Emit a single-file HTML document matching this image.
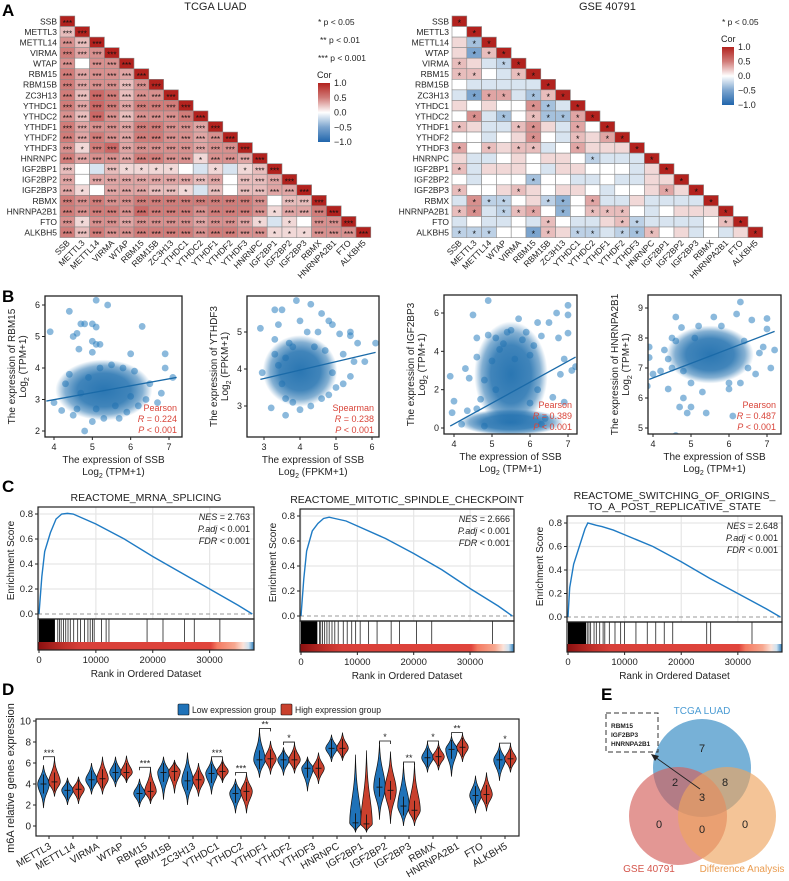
<!DOCTYPE html>
<html><head><meta charset="utf-8"><style>
body{margin:0;background:#fff}
svg{display:block;font-family:"Liberation Sans",Arial,sans-serif}
</style></head><body>
<svg id="fig" width="789" height="881" viewBox="0 0 789 881" xmlns="http://www.w3.org/2000/svg"></svg>
<script>
// ---------- DATA ----------
const tcgaGenes=["SSB","METTL3","METTL14","VIRMA","WTAP","RBM15","RBM15B","ZC3H13","YTHDC1","YTHDC2","YTHDF1","YTHDF2","YTHDF3","HNRNPC","IGF2BP1","IGF2BP2","IGF2BP3","RBMX","HNRNPA2B1","FTO","ALKBH5"];
const gseGenes=["SSB","METTL3","METTL14","WTAP","VIRMA","RBM15","RBM15B","ZC3H13","YTHDC1","YTHDC2","YTHDF1","YTHDF2","YTHDF3","HNRNPC","IGF2BP1","IGF2BP2","IGF2BP3","RBMX","HNRNPA2B1","FTO","ALKBH5"];
const tcgaCor=[[],[2],[4,2],[5,3,4],[4,0,4,4],[5,3,4,4,3],[5,3,4,4,2,4],[5,2,6,5,2,4,4],[5,3,6,5,3,5,5,5],[4,2,6,4,2,4,4,4,5],[5,3,4,4,3,5,5,4,4,3],[5,3,5,4,3,5,5,4,4,3,4],[4,1,5,6,3,4,4,4,4,3,4,4],[5,3,4,4,3,5,5,4,4,1,4,4,3],[2,0,-1,2,1,1,1,1,0,-1,1,-1,1,2],[3,0,3,3,3,3,3,3,3,2,3,0,2,2,3],[3,1,0,3,3,3,2,2,1,-1,2,0,2,2,3,3],[5,4,5,4,4,5,5,5,5,5,5,5,5,4,0,2,2],[5,4,5,5,4,6,5,5,5,4,5,5,5,4,1,3,3,5],[4,1,4,4,3,4,4,4,4,3,4,4,3,1,-1,1,0,4,4],[5,2,5,4,4,5,5,5,5,4,5,5,4,4,1,1,1,4,4,4]];
const gseCor=[[],[0],[1,-3],[1,-5,2],[2,1,-1,-2],[2,2,0,-1,2],[0,-1,-1,-1,-1,-1],[-1,-5,3,3,-1,-3,2],[1,0,1,0,0,4,-3,-1],[0,4,-1,-3,0,2,-3,-3,3],[2,1,-1,-1,2,4,1,-1,3,0],[0,0,-1,0,1,4,0,-1,2,1,3],[3,0,2,1,2,2,-1,0,3,1,1,1],[1,-1,-1,0,1,0,1,1,0,-2,-1,-1,-1],[2,-1,1,1,1,0,-1,1,1,0,0,0,-1,1],[0,-1,0,0,0,-3,0,0,-1,-1,0,-1,-1,1,1],[2,0,0,1,2,1,0,1,1,0,-1,0,0,1,3,1],[-1,4,-2,-2,0,1,-2,-4,0,3,-1,-1,1,-1,-1,-1,-1],[2,4,-1,-2,2,3,0,-4,0,2,2,2,0,-1,0,1,1,1],[-1,0,-1,-1,0,-1,2,0,-1,-1,1,2,-2,-1,-1,-1,-1,0,2],[-2,-2,-2,0,0,-5,2,1,-2,-2,-1,-2,-3,2,0,1,-1,0,-1,1]];

const s1x=[3.9,4.4,4.5,4.6,4.7,4.8,4.65,5.1,5.0,5.1,5.0,5.1,5.2,6.0,6.3,5.4,5.0,6.9,7.1,6.9,6.5,6.8,6.7,4.0,4.2,4.3,4.4,4.5,4.8,5.0,5.3,5.7,5.9,6.2,6.4,4.6,5.5,5.8,6.1,5.2,4.9,6.0,5.6,5.1,4.7];
const s1y=[5.15,5.8,5.0,5.1,5.4,5.4,4.6,6.15,5.4,5.3,4.85,4.75,4.75,4.45,5.32,6.0,4.5,4.45,3.7,4.0,3.5,3.2,2.9,2.9,2.65,3.5,3.8,2.5,2.0,2.3,2.4,2.4,2.6,2.8,3.0,2.7,4.1,4.0,3.9,4.0,3.7,3.1,2.8,2.7,3.2];
const s2x=[2.9,2.95,3.2,3.3,3.3,3.4,3.5,3.6,3.7,3.8,3.9,4.0,4.2,4.3,4.5,4.6,4.8,4.9,5.1,5.4,5.4,5.6,5.5,5.8,6.1,5.0,5.2,5.4,4.6,4.3,3.6,3.5,3.4,4.0,3.8,4.8,5.2,4.7,3.3,4.4,3.6,4.9];
const s2y=[5.1,3.9,2.95,4.8,5.6,5.2,5.6,2.75,4.7,4.6,5.85,5.3,5.0,5.75,5.0,5.5,5.3,5.2,4.95,4.9,5.0,4.7,4.2,4.2,4.7,3.5,3.6,3.8,3.2,3.0,3.2,3.6,4.1,2.9,3.1,3.3,4.4,4.5,4.4,4.6,4.3,3.9];
const s3x=[3.9,3.95,4.0,4.2,4.3,4.35,4.4,4.5,4.6,4.6,4.7,4.8,4.9,5.0,5.1,5.2,5.3,5.4,5.5,5.6,5.7,5.8,5.9,6.0,6.1,6.2,6.3,6.5,6.6,6.7,6.75,6.9,7.0,7.0,7.0,6.9,7.2,7.1,6.4,6.2,6.8,4.9,4.6,5.1,6.0,4.8,6.3];
const s3y=[2.7,0.8,1.4,0.2,3.1,0.9,2.6,5.9,4.7,3.7,1.5,2.5,4.85,3.5,4.7,4.1,4.4,5.0,5.1,3.6,5.7,4.6,5.0,3.8,4.3,5.5,4.8,5.5,1.6,6.0,4.7,3.6,6.4,5.9,4.95,1.35,3.2,3.0,0.5,2.0,2.8,6.65,1.0,2.0,1.3,0.1,0.2];
const s4x=[3.9,3.9,3.85,4.0,4.2,4.3,4.4,4.4,4.5,4.6,4.6,4.7,4.75,4.8,4.9,5.0,5.1,5.3,5.4,5.6,5.8,6.0,6.1,6.2,6.3,6.5,6.6,6.7,6.8,7.0,7.0,7.1,7.2,6.9,6.4,4.8,5.0,5.2,6.0,4.6,6.3,4.5];
const s4y=[7.35,7.7,6.4,6.8,6.9,7.6,7.3,6.3,8.0,4.75,8.7,5.7,8.35,6.0,5.5,5.7,8.0,6.2,5.5,8.7,8.4,6.5,5.4,8.8,9.2,7.0,8.6,6.8,7.5,8.3,8.65,7.0,7.6,7.7,7.9,6.9,6.5,8.4,6.3,7.9,6.5,7.0];
const corePlot=[0,1,2,2,3], coreCx=[5.3,4.0,5.5,5.5,5.5], coreCy=[3.3,3.95,0.3,2.8,7.45], coreSx=[0.55,0.45,0.6,0.42,0.5], coreSy=[0.42,0.42,0.3,1.2,0.42];
const fitX0=[3.8,2.9,3.9,3.9], fitY0=[2.95,3.72,0.1,6.62], fitX1=[7.2,6.1,7.2,7.2], fitY1=[3.7,4.45,3.7,8.22];
const statMethod=["Pearson","Spearman","Pearson","Pearson"], statR=["0.224","0.238","0.389","0.487"];

const esRank1=[0,500,1000,2000,3000,4000,5000,6000,8000,10000,15000,20000,25000,30000,35000,37500];
const esVal1=[0,0.3,0.5,0.65,0.76,0.8,0.805,0.8,0.76,0.72,0.6,0.46,0.33,0.2,0.07,0];
const esRank2=[0,500,1000,2000,3000,4000,5000,6000,8000,10000,15000,20000,25000,30000,35000,37500];
const esVal2=[0,0.3,0.52,0.68,0.74,0.78,0.79,0.78,0.76,0.72,0.62,0.5,0.37,0.22,0.08,0];
const esRank3=[0,300,1000,2000,3000,3500,5000,6000,8000,10000,15000,20000,25000,30000,35000,37500];
const esVal3=[0,0.25,0.45,0.6,0.75,0.8,0.78,0.77,0.74,0.7,0.6,0.47,0.33,0.2,0.07,0];
const hitDense=[2800,2900,3200];
const hits1=[3300,3600,3900,4300,4700,5100,5500,6100,6800,7300,8000,8600,9000,9400,9700,11000,11800,12300,19000,21800,25600,27300,31800];
const hits2=[3300,3500,3800,4200,4600,5000,5500,6000,6600,7500,8200,9000,9700,10500,12000,13500,16000,17500,20500,23200,34000];
const hits3=[3400,3700,4000,4600,5000,5600,6200,6500,7300,8300,9300,10000,12000,14000,15500,17000,18500,24500,25200,32500];
const gseaTitle=[["REACTOME_MRNA_SPLICING"],["REACTOME_MITOTIC_SPINDLE_CHECKPOINT"],["REACTOME_SWITCHING_OF_ORIGINS_","TO_A_POST_REPLICATIVE_STATE"]];
const nes=["2.763","2.666","2.648"];

const vGenes=["METTL3","METTL14","VIRMA","WTAP","RBM15","RBM15B","ZC3H13","YTHDC1","YTHDC2","YTHDF1","YTHDF2","YTHDF3","HNRNPC","IGF2BP1","IGF2BP2","IGF2BP3","RBMX","HNRNPA2B1","FTO","ALKBH5"];
const lowMed=[4.0,3.4,4.4,5.1,3.1,5.1,4.3,5.0,3.1,6.3,6.3,5.5,7.4,0.3,3.7,1.9,6.5,7.3,2.9,6.3];
const lowMin=[1.7,2.0,3.0,3.7,1.8,2.5,2.0,3.0,1.2,4.6,4.8,3.3,6.1,-0.6,0.6,0.0,5.1,4.7,1.2,4.3];
const lowMax=[5.8,4.6,6.0,6.6,4.5,6.6,7.0,6.5,4.5,9.2,7.5,6.6,8.7,6.8,8.0,6.0,8.0,8.6,4.8,7.8];
const highMed=[4.2,3.5,4.5,5.1,3.3,5.2,4.4,5.2,3.3,6.4,6.3,5.5,7.4,0.2,3.4,1.5,6.6,7.5,3.0,6.4];
const highMin=[2.8,2.1,3.0,4.1,2.1,3.1,2.8,4.1,1.2,4.9,5.0,4.0,6.2,-0.6,0.2,0.0,5.3,6.1,1.4,5.1];
const highMax=[6.5,4.7,6.6,6.7,5.5,6.3,6.0,6.4,5.0,8.1,7.9,7.0,8.9,7.2,7.1,6.0,7.9,8.8,5.1,7.8];
const sigLabel=["***","","","","***","","","***","***","**","*","","","","*","**","*","**","","*"];

const vennCounts=[7,2,8,3,0,0,0];

// ---------- HELPERS ----------
const svg=document.getElementById('fig');
const NS="http://www.w3.org/2000/svg";
function el(tag,attrs,parent){const e=document.createElementNS(NS,tag);for(const k in attrs)e.setAttribute(k,attrs[k]);(parent||svg).appendChild(e);return e;}
function txt(s,x,y,size,attrs,parent){const t=el('text',Object.assign({x:x,y:y,'font-size':size,fill:'#222'},attrs||{}),parent);t.textContent=s;return t;}
function lin(a0,p0,a1,p1){return v=>p0+(v-a0)*(p1-p0)/(a1-a0);}
function corColor(r){
  const w=[255,255,255],red=[178,34,30],blue=[33,102,172];
  const c=r>=0?red:blue,t=Math.pow(Math.min(1,Math.abs(r)),0.75);
  return 'rgb('+w.map((v,i)=>Math.round(v+(c[i]-v)*t)).join(',')+')';
}
function panelLabel(s,x,y){const t=txt(s,x,y,17,{'font-weight':'bold',fill:'#000'});}

// ---------- PANEL A ----------
function heatmap(id,x0,y0,cw,ch,genes,cor,title,tcga){
  const g=el('g',{});
  
  
  const tt=txt(title,x0+cw*10.5,10,11,{'text-anchor':'middle'},g);
  
  
  genes.forEach((name,i)=>{
    const lb=txt(name,x0-3,y0+i*ch+ch*0.8,8.5,{'text-anchor':'end'},g);
    
    
    const cx=x0+i*cw+cw/2;
    const cl=txt(name,cx+3,y0+genes.length*ch+6,8.5,{'text-anchor':'end',transform:'rotate(-45 '+(cx+3)+' '+(y0+genes.length*ch+6)+')'},g);
    
    
    for(let j=0;j<=i;j++){
      const r=j===i?1:cor[i][j]/10;
      const c=el('rect',{x:x0+j*cw,y:y0+i*ch,width:cw,height:ch,fill:corColor(r),stroke:'#8a8a8a','stroke-width':0.6},g);
      
      
      let st='';
      const a=Math.abs(r);
      if(tcga){st=a>=0.2?'***':(a>=0.1&&r>0?'*':'');}else{st=a>=0.2?'*':'';}
      if(st)txt(st,x0+j*cw+cw/2,y0+i*ch+ch*0.95,tcga?8:9,{'text-anchor':'middle',fill:'#111'},g);
    }
  });
  return g;
}
heatmap('tcga-heatmap',60,16,14.8,10.55,tcgaGenes,tcgaCor,'TCGA LUAD',true);
heatmap('gse-heatmap',452,16,14.8,10.55,gseGenes,gseCor,'GSE 40791',false);
panelLabel('A',2,16);
function colorLegend(id,x,y,h){
  const g=el('g',{});
  
  
  const gid=id+'-grad';
  const d=el('defs',{},g);const lg=el('linearGradient',{id:gid,x1:0,y1:0,x2:0,y2:1},d);
  [[0,1],[0.25,0.5],[0.5,0],[0.75,-0.5],[1,-1]].forEach(s=>el('stop',{offset:s[0],'stop-color':corColor(s[1])},lg));
  txt('Cor',x-1,y-5,9,{},g);
  el('rect',{x:x,y:y,width:12,height:h,fill:'url(#'+gid+')'},g);
  ['1.0','0.5','0.0','\u22120.5','\u22121.0'].forEach((s,i)=>txt(s,x+16,y+3+i*h/4,9,{},g));
}
colorLegend('tcga-color-legend',318,83,59);
colorLegend('gse-color-legend',722,47,58);
txt('* p < 0.05',318,25,8.5);
txt('** p < 0.01',320,43,8.5);
txt('*** p < 0.001',318,61,8.5);
txt('* p < 0.05',722,25,8.5);

// ---------- PANEL B ----------
panelLabel('B',2,302);
const scFrames=[[45,296,182,437],[247,296,379,437],[444,295,577,434],[648,295,781,434]];
const scXcal=[[4,54,7,169],[3,264,6,372],[4,454,7,568],[4,653,7,767]];
const scYcal=[[2,431,6,305],[3,406,5,332],[0,428,6,313],[5,428,9,308]];
const scXt=[[4,5,6,7],[3,4,5,6],[4,5,6,7],[4,5,6,7]];
const scYt=[[2,3,4,5,6],[3,4,5],[0,2,4,6],[5,6,7,8,9]];
const scYname=["RBM15","YTHDF3","IGF2BP3","HNRNPA2B1"];
const scUnit=["TPM+1","FPKM+1","TPM+1","TPM+1"];
const scX=[s1x,s2x,s3x,s4x], scY=[s1y,s2y,s3y,s4y];
const defs0=el('defs',{});
const rg=el('radialGradient',{id:'coreGrad'},defs0);
[[0,0.95],[0.55,0.85],[0.8,0.55],[1,0]].forEach(s=>el('stop',{offset:s[0],'stop-color':'#1f6fae','stop-opacity':s[1]},rg));
for(let k=0;k<4;k++){
  const g=el('g',{});
  
  
  const f=scFrames[k];
  const X=lin(...scXcal[k]),Y=lin(...scYcal[k]);
  const cp=el('clipPath',{id:'cl'+k},g);el('rect',{x:f[0],y:f[1],width:f[2]-f[0],height:f[3]-f[1]},cp);
  const inner=el('g',{'clip-path':'url(#cl'+k+')'},g);
  scX[k].forEach((v,i)=>{
    const p=el('circle',{cx:X(v),cy:Y(scY[k][i]),r:3.4,fill:'#2b7fc0',opacity:0.55},inner);
    
    
  });
  corePlot.forEach((pk,ci)=>{
    if(pk!==k)return;
    const sx=Math.abs(X(coreSx[ci])-X(0)),sy=Math.abs(Y(coreSy[ci])-Y(0));
    const e=el('ellipse',{cx:X(coreCx[ci]),cy:Y(coreCy[ci]),rx:sx*2.3,ry:sy*2.3,fill:'url(#coreGrad)'},inner);
    
    
  });
  const fl=el('line',{x1:X(fitX0[k]),y1:Y(fitY0[k]),x2:X(fitX1[k]),y2:Y(fitY1[k]),stroke:'#1a6aa8','stroke-width':1.3},inner);
  
  
  el('rect',{x:f[0],y:f[1],width:f[2]-f[0],height:f[3]-f[1],fill:'none',stroke:'#222','stroke-width':1.3},g);
  scXt[k].forEach(v=>{el('line',{x1:X(v),x2:X(v),y1:f[3],y2:f[3]+3,stroke:'#222'},g);txt(String(v),X(v),f[3]+13,9,{'text-anchor':'middle'},g);});
  scYt[k].forEach(v=>{el('line',{x1:f[0]-3,x2:f[0],y1:Y(v),y2:Y(v),stroke:'#222'},g);txt(String(v),f[0]-5,Y(v)+3,9,{'text-anchor':'end'},g);});
  const mx=(f[0]+f[2])/2;
  txt('The expression of SSB',mx,f[3]+26,10,{'text-anchor':'middle'},g);
  const u=txt('',mx,f[3]+38,10,{'text-anchor':'middle'},g);
  u.innerHTML='Log<tspan font-size="7" dy="3">2</tspan><tspan dy="-3"> ('+scUnit[k]+')</tspan>';
  const my=(f[1]+f[3])/2,lx=f[0]-30;
  txt('The expression of '+scYname[k],lx,my,10,{'text-anchor':'middle',transform:'rotate(-90 '+lx+' '+my+')'},g);
  const u2=txt('',lx+11,my,10,{'text-anchor':'middle',transform:'rotate(-90 '+(lx+11)+' '+my+')'},g);
  u2.innerHTML='Log<tspan font-size="7" dy="3">2</tspan><tspan dy="-3"> ('+scUnit[k]+')</tspan>';
  const c='#d9453a';
  txt(statMethod[k],f[2]-5,f[3]-26,9,{'text-anchor':'end',fill:c},g);
  const r=txt('',f[2]-5,f[3]-15,9,{'text-anchor':'end',fill:c},g);r.innerHTML='<tspan font-style="italic">R</tspan> = '+statR[k];
  const p=txt('',f[2]-5,f[3]-4,9,{'text-anchor':'end',fill:c},g);p.innerHTML='<tspan font-style="italic">P</tspan> &lt; 0.001';
}

// ---------- PANEL C ----------
panelLabel('C',2,492);
const gsFrames=[[38,507,254,650],[300,509,514,652],[567,516,782,652]];
const gsZero=[614,616,617], gsEight=[514,516,523];
const esR=[esRank1,esRank2,esRank3], esV=[esVal1,esVal2,esVal3], hitsAll=[hits1,hits2,hits3];
for(let k=0;k<3;k++){
  const g=el('g',{});
  
  
  const f=gsFrames[k];
  const X=lin(0,f[0]+1,37800,f[2]);
  const Y=lin(0,gsZero[k],0.8,gsEight[k]);
  const esBot=gsZero[k]+5;
  [0,10000,20000,30000].forEach(v=>el('line',{x1:X(v),x2:X(v),y1:f[1],y2:esBot,stroke:'#e6e6e6','stroke-width':1.2},g));
  [0.2,0.4,0.6,0.8].forEach(v=>el('line',{x1:f[0],x2:f[2],y1:Y(v),y2:Y(v),stroke:'#e6e6e6','stroke-width':1.2},g));
  el('line',{x1:f[0],x2:f[2],y1:Y(0),y2:Y(0),stroke:'#999','stroke-dasharray':'4,3'},g);
  const pts=esR[k].map((v,i)=>X(v)+','+Y(esV[k][i])).join(' ');
  const pl=el('polyline',{points:pts,fill:'none',stroke:'#1f7bc4','stroke-width':1.4},g);
  
  
  el('rect',{x:f[0],y:f[1],width:f[2]-f[0],height:esBot-f[1],fill:'none',stroke:'#222','stroke-width':1.2},g);
  const rugTop=esBot,barTop=f[3]-8;
  el('rect',{x:X(0),y:rugTop,width:X(hitDense[k])-X(0),height:barTop-rugTop,fill:'#000'},g);
  hitsAll[k].forEach(h=>{const l=el('line',{x1:X(h),x2:X(h),y1:rugTop,y2:barTop,stroke:'#222','stroke-width':0.8},g);});
  const gid='rb'+k;const d=el('defs',{},g);const lg=el('linearGradient',{id:gid},d);
  [[0,'#8b0f0f'],[0.12,'#c0302a'],[0.2,'#d8403a'],[0.8,'#e0453c'],[0.83,'#f47b63'],[0.91,'#f7a890'],[0.95,'#fbe3da'],[0.975,'#cfe3f1'],[1,'#2b7ab8']].forEach(s=>el('stop',{offset:s[0],'stop-color':s[1]},lg));
  el('rect',{x:f[0],y:barTop,width:f[2]-f[0],height:8,fill:'url(#'+gid+')'},g);
  el('rect',{x:f[0],y:rugTop,width:f[2]-f[0],height:f[3]-rugTop,fill:'none',stroke:'#222','stroke-width':1.2},g);
  [0,10000,20000,30000].forEach(v=>{el('line',{x1:X(v),x2:X(v),y1:f[3],y2:f[3]+3,stroke:'#222'},g);txt(String(v),X(v),f[3]+13,9.5,{'text-anchor':'middle'},g);});
  [0,0.2,0.4,0.6,0.8].forEach(v=>{el('line',{x1:f[0]-3,x2:f[0],y1:Y(v),y2:Y(v),stroke:'#222'},g);txt(v.toFixed(1),f[0]-5,Y(v)+3,9.5,{'text-anchor':'end'},g);});
  const mx=(f[0]+f[2])/2;
  txt('Rank in Ordered Dataset',mx,f[3]+27,10,{'text-anchor':'middle'},g);
  const my=(f[1]+gsZero[k])/2, lx=f[0]-24;
  txt('Enrichment Score',lx,my,10,{'text-anchor':'middle',transform:'rotate(-90 '+lx+' '+my+')'},g);
  const tl=gseaTitle[k];
  tl.forEach((s,i)=>txt(s,mx,f[1]-6-(tl.length-1-i)*11,10.5,{'text-anchor':'middle'},g));
  const n=txt('',f[2]-4,f[1]+13,9,{'text-anchor':'end'},g);n.innerHTML='<tspan font-style="italic">NES</tspan> = '+nes[k];
  const p=txt('',f[2]-4,f[1]+25,9,{'text-anchor':'end'},g);p.innerHTML='<tspan font-style="italic">P.adj</tspan> &lt; 0.001';
  const q=txt('',f[2]-4,f[1]+37,9,{'text-anchor':'end'},g);q.innerHTML='<tspan font-style="italic">FDR</tspan> &lt; 0.001';
}

// ---------- PANEL D ----------
panelLabel('D',2,695);
(function(){
  const g=el('g',{});
  
  
  const f=[36,719,519,836];
  const Y=lin(0,826,10,721);
  const X=i=>49+i*24;
  el('rect',{x:f[0],y:f[1],width:f[2]-f[0],height:f[3]-f[1],fill:'none',stroke:'#222','stroke-width':1.2},g);
  [0,2,4,6,8,10].forEach(v=>{el('line',{x1:f[0]-3,x2:f[0],y1:Y(v),y2:Y(v),stroke:'#222'},g);txt(String(v),f[0]-5,Y(v)+3.5,10,{'text-anchor':'end'},g);});
  txt('m6A relative genes expression',14,778,11,{'text-anchor':'middle',transform:'rotate(-90 14 778)'},g);
  function violin(cx,mn,md,mx,col){
    const w=5.8,yt=Y(mx),ym=Y(md),yb=Y(mn);
    const d='M'+cx+','+yt+' C'+(cx+w*0.1)+','+(yt+(ym-yt)*0.6)+' '+(cx+w)+','+(ym-(ym-yt)*0.3)+' '+(cx+w)+','+ym+
      ' C'+(cx+w)+','+(ym+(yb-ym)*0.3)+' '+(cx+w*0.1)+','+(yb-(yb-ym)*0.6)+' '+cx+','+yb+
      ' C'+(cx-w*0.1)+','+(yb-(yb-ym)*0.6)+' '+(cx-w)+','+(ym+(yb-ym)*0.3)+' '+(cx-w)+','+ym+
      ' C'+(cx-w)+','+(ym-(ym-yt)*0.3)+' '+(cx-w*0.1)+','+(yt+(ym-yt)*0.6)+' '+cx+','+yt+'Z';
    const p=el('path',{d:d,fill:col,stroke:'#111','stroke-width':0.7},g);
    
    
    el('line',{x1:cx,x2:cx,y1:Y(Math.min(md+0.9,mx)),y2:Y(Math.max(md-0.9,mn)),stroke:'#111','stroke-width':0.9},g);
    el('line',{x1:cx-3,x2:cx+3,y1:ym,y2:ym,stroke:'#111','stroke-width':0.9},g);
  }
  vGenes.forEach((name,i)=>{
    const cx=X(i);
    violin(cx-5.5,lowMin[i],lowMed[i],lowMax[i],'#1f72b8');
    violin(cx+5.5,highMin[i],highMed[i],highMax[i],'#c9402d');
    el('line',{x1:cx,x2:cx,y1:f[3],y2:f[3]+3,stroke:'#222'},g);
    const t=txt(name,cx+3,f[3]+12,10,{'text-anchor':'end',transform:'rotate(-30 '+(cx+3)+' '+(f[3]+12)+')'},g);
    
    
    if(sigLabel[i]){
      const by=Y(Math.max(lowMax[i],highMax[i]))-1;
      el('polyline',{points:(cx-5.5)+','+(by+3)+' '+(cx-5.5)+','+by+' '+(cx+5.5)+','+by+' '+(cx+5.5)+','+(by+3),fill:'none',stroke:'#111','stroke-width':0.8},g);
      txt(sigLabel[i],cx,by-1,9,{'text-anchor':'middle'},g);
    }
  });
  const lg=el('g',{},g);
  
  
  el('rect',{x:178,y:704,width:11,height:11,fill:'#1f72b8',stroke:'#111','stroke-width':0.6,rx:1},lg);
  txt('Low expression group',192,713,9.5,{textLength:84,lengthAdjust:'spacingAndGlyphs'},lg);
  el('rect',{x:281,y:704,width:11,height:11,fill:'#c9402d',stroke:'#111','stroke-width':0.6,rx:1},lg);
  txt('High expression group',295,713,9.5,{textLength:86,lengthAdjust:'spacingAndGlyphs'},lg);
})();

// ---------- PANEL E ----------
panelLabel('E',601,700);
(function(){
  const g=el('g',{});
  
  
  const c1=el('circle',{cx:702,cy:768,r:49,fill:'#5fa3d0',opacity:0.85},g);
  
  const c2=el('circle',{cx:678,cy:816,r:49,fill:'#d4605a',opacity:0.65},g);
  
  const c3=el('circle',{cx:727,cy:816,r:49,fill:'#eea560',opacity:0.65},g);
  
  const pos=[[702,752],[675,786],[725,786],[702,801],[659,828],[702,833],[745,828]];
  vennCounts.forEach((v,i)=>txt(String(v),pos[i][0],pos[i][1],11,{'text-anchor':'middle',fill:'#222'},g));
  txt('TCGA LUAD',702,714,10,{'text-anchor':'middle',fill:'#4a9bd3'},g);
  txt('GSE 40791',649,872,10,{'text-anchor':'middle',fill:'#d4554b'},g);
  txt('Difference Analysis',742,872,10,{'text-anchor':'middle',fill:'#ea9c50'},g);
  el('rect',{x:606,y:713,width:52,height:39,fill:'none',stroke:'#333','stroke-dasharray':'5,3','stroke-width':1},g);
  txt('RBM15',611,728,6.5,{'font-weight':'bold'},g);
  txt('IGF2BP3',611,737,6.5,{'font-weight':'bold'},g);
  txt('HNRNPA2B1',611,746,6.5,{'font-weight':'bold'},g);
  el('line',{x1:700,y1:789,x2:655,y2:757,stroke:'#222','stroke-width':0.9},g);
  el('polygon',{points:'651,754 659,756 655,761',fill:'#222'},g);
})();
</script>
</body></html>
